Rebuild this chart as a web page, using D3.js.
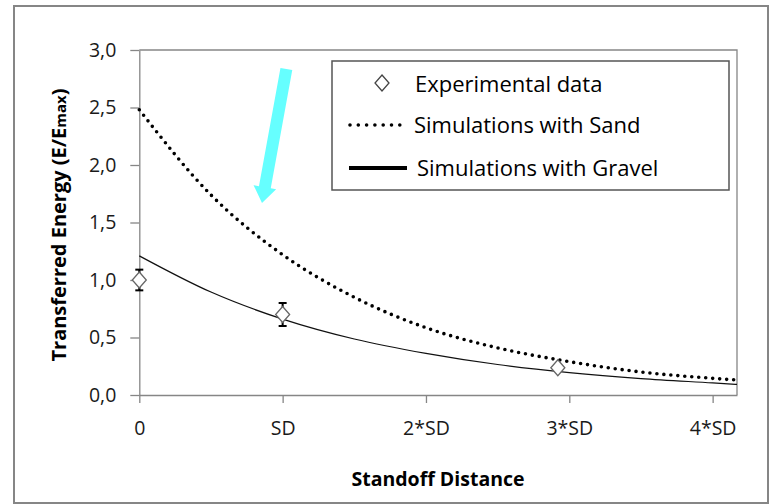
<html>
<head>
  <style>
    body { margin: 0; background: #fff; }
    svg text { font-family: "Open Sans", sans-serif; }
    svg .tick text { font-size: 19.5px; fill: #1a1a1a; }
    svg .domain { stroke: #868686; stroke-width: 1.3px; }
    svg .tick line { stroke: #868686; stroke-width: 1.3px; }
  </style>
</head>
<body>
  <div id="chart"></div>
  <script src="https://d3js.org/d3.v7.min.js"></script>
  <script>
  // x in units of SD (standoff distance), y = E/Emax
  var xTicks = [0, 1, 2, 3, 4];
  var xTickLabels = ["0", "SD", "2*SD", "3*SD", "4*SD"];
  var yTicks = [0, 0.5, 1, 1.5, 2, 2.5, 3];

  var sandX = [0, 0.5, 1, 1.5, 2, 2.5, 3, 3.5, 4, 4.17];
  var sandY = [2.48, 1.74, 1.22, 0.85, 0.585, 0.41, 0.29, 0.20, 0.145, 0.13];

  var gravelX = [0, 0.5, 1, 1.5, 2, 2.5, 3, 3.5, 4, 4.17];
  var gravelY = [1.21, 0.895, 0.66, 0.487, 0.362, 0.265, 0.195, 0.143, 0.105, 0.092];

  var expX = [0, 1, 2.92];
  var expY = [1.0, 0.70, 0.237];
  var expErr = [0.09, 0.10, 0];

  // cyan annotation arrow, from -> to in data units
  var arrowFrom = [1.026, 2.835];
  var arrowTo = [0.856, 1.67];

  var W = 770, H = 504;
  var plot = { left: 139.3, top: 50, right: 737, bottom: 395 };

  var svg = d3.select("#chart").append("svg")
      .attr("width", W)
      .attr("height", H);

  // outer frame
  svg.append("rect")
      .attr("x", 14).attr("y", 6)
      .attr("width", 754).attr("height", 497)
      .style("fill", "#fff")
      .style("stroke", "#868686")
      .style("stroke-width", "2px");

  var x = d3.scaleLinear().domain([0, 4.17]).range([plot.left, plot.right]);
  var y = d3.scaleLinear().domain([0, 3]).range([plot.bottom, plot.top]);

  var fmt = d3.formatLocale({ decimal: ",", thousands: ".", grouping: [3], currency: ["", ""] }).format(".1f");

  // plot area border (top and right)
  svg.append("path")
      .attr("d", "M" + x(0) + "," + y(3) + "H" + x(4.17) + "V" + y(0))
      .style("fill", "none")
      .style("stroke", "#868686")
      .style("stroke-width", "1.3px");

  // x axis
  svg.append("g")
      .attr("transform", "translate(0," + y(0) + ")")
      .call(d3.axisBottom(x)
        .tickValues(xTicks)
        .tickFormat(function (d, i) { return xTickLabels[i]; })
        .tickSize(8)
        .tickSizeOuter(0)
        .tickPadding(18));

  // y axis
  svg.append("g")
      .attr("transform", "translate(" + x(0) + ",0)")
      .call(d3.axisLeft(y)
        .tickValues(yTicks)
        .tickFormat(fmt)
        .tickSize(9)
        .tickSizeOuter(0)
        .tickPadding(14));

  // axis titles
  svg.append("text")
      .attr("x", 438)
      .attr("y", 486)
      .text("Standoff Distance")
      .style("text-anchor", "middle")
      .style("font-weight", "bold")
      .style("font-size", "19.5px")
      .style("fill", "#000");

  var yt = svg.append("text")
      .attr("transform", "translate(66," + 225 + ") rotate(-90)")
      .style("text-anchor", "middle")
      .style("font-weight", "bold")
      .style("font-size", "20px")
      .style("fill", "#000");
  yt.append("tspan").text("Transferred Energy (E/E");
  yt.append("tspan").text("max").style("font-size", "15px");
  yt.append("tspan").text(")");

  var line = d3.line()
    .x(function (d) { return x(d[0]); })
    .y(function (d) { return y(d[1]); })
    .curve(d3.curveMonotoneX);

  // gravel simulation
  svg.append("path")
      .attr("d", line(d3.zip(gravelX, gravelY)))
      .style("fill", "none")
      .style("stroke", "#111")
      .style("stroke-width", "1.2px");

  // sand simulation (dotted)
  svg.append("path")
      .attr("d", line(d3.zip(sandX, sandY)))
      .style("fill", "none")
      .style("stroke", "#000")
      .style("stroke-width", "3.6px")
      .style("stroke-linecap", "round")
      .style("stroke-dasharray", "0 7");

  // experimental data with error bars
  var exp = d3.zip(expX, expY, expErr);
  var eb = svg.append("g").selectAll("g")
    .data(exp.filter(function (d) { return d[2] > 0; }))
    .enter().append("g");
  eb.append("line")
      .attr("x1", function (d) { return x(d[0]); })
      .attr("x2", function (d) { return x(d[0]); })
      .attr("y1", function (d) { return y(d[1] - d[2]); })
      .attr("y2", function (d) { return y(d[1] + d[2]); });
  [-1, 1].forEach(function (s) {
    eb.append("line")
        .attr("x1", function (d) { return x(d[0]) - 4; })
        .attr("x2", function (d) { return x(d[0]) + 4; })
        .attr("y1", function (d) { return y(d[1] + s * d[2]); })
        .attr("y2", function (d) { return y(d[1] + s * d[2]); });
  });
  eb.selectAll("line")
      .style("stroke", "#000")
      .style("stroke-width", "2px");

  var diamond = "M0,-8L7,0L0,8L-7,0Z";
  svg.append("g").selectAll("path")
    .data(exp)
    .enter().append("path")
      .attr("d", diamond)
      .attr("transform", function (d) { return "translate(" + x(d[0]) + "," + y(d[1]) + ")"; })
      .style("fill", "#fff")
      .style("stroke", "#666")
      .style("stroke-width", "1.3px");

  // cyan arrow
  (function () {
    var x0 = x(arrowFrom[0]), y0 = y(arrowFrom[1]);
    var x1 = x(arrowTo[0]), y1 = y(arrowTo[1]);
    var dx = x1 - x0, dy = y1 - y0, len = Math.sqrt(dx * dx + dy * dy);
    var ux = dx / len, uy = dy / len, px = -uy, py = ux;
    var sw = 6, hw = 11.5, hl = 16;
    var bx = x1 - ux * hl, by = y1 - uy * hl;
    var pts = [
      [x0 + px * sw, y0 + py * sw],
      [bx + px * sw, by + py * sw],
      [bx + px * hw, by + py * hw],
      [x1, y1],
      [bx - px * hw, by - py * hw],
      [bx - px * sw, by - py * sw],
      [x0 - px * sw, y0 - py * sw]
    ];
    svg.append("path")
        .attr("d", "M" + pts.join("L") + "Z")
        .style("fill", "#66ffff")
        .style("stroke", "none");
  })();

  // legend
  var lg = svg.append("g");
  lg.append("rect")
      .attr("x", 332).attr("y", 61)
      .attr("width", 397).attr("height", 129)
      .style("fill", "#fff")
      .style("stroke", "#555")
      .style("stroke-width", "1.5px");
  lg.append("path")
      .attr("d", diamond)
      .attr("transform", "translate(382,83)")
      .style("fill", "#fff")
      .style("stroke", "#444")
      .style("stroke-width", "1.3px");
  lg.append("line")
      .attr("x1", 350).attr("x2", 400)
      .attr("y1", 125).attr("y2", 125)
      .style("stroke", "#000")
      .style("stroke-width", "3.6px")
      .style("stroke-linecap", "round")
      .style("stroke-dasharray", "0 8.3");
  lg.append("line")
      .attr("x1", 349).attr("x2", 407)
      .attr("y1", 168).attr("y2", 168)
      .style("stroke", "#000")
      .style("stroke-width", "4px");
  var legendText = ["Experimental data", "Simulations with Sand", "Simulations with Gravel"];
  var legendY = [92, 133, 176];
  var legendX = [415, 414, 417];
  lg.selectAll("text.lt")
    .data(legendText)
    .enter().append("text")
      .attr("x", function (d, i) { return legendX[i]; })
      .attr("y", function (d, i) { return legendY[i]; })
      .text(function (d) { return d; })
      .style("font-size", "22px")
      .style("fill", "#000");
  </script>
</body>
</html>
